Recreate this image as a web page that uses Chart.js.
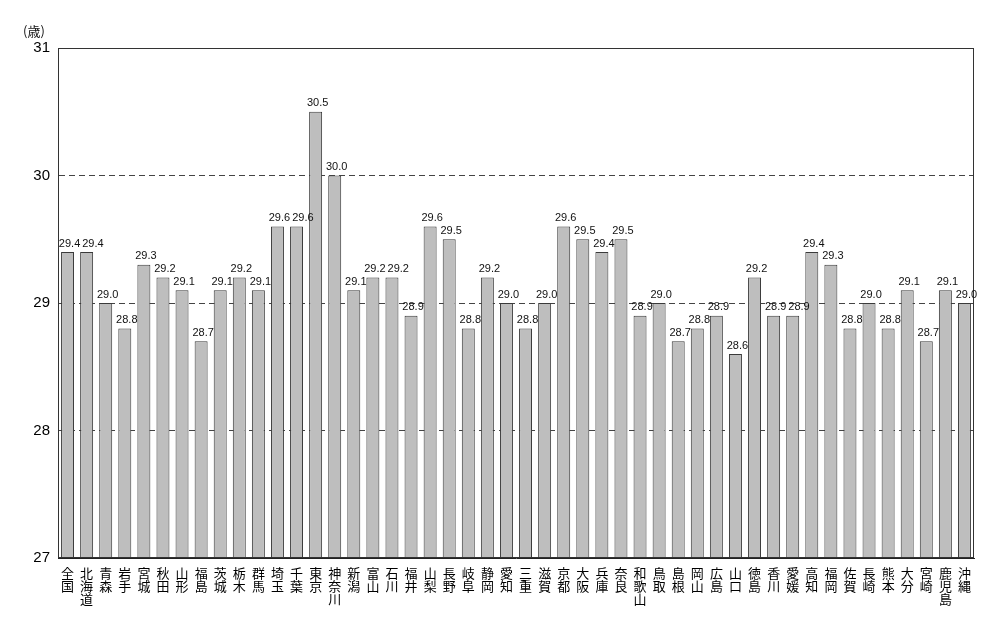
<!DOCTYPE html>
<html>
<head>
<meta charset="utf-8">
<script src="https://cdn.jsdelivr.net/npm/chart.js@4/dist/chart.umd.min.js"></script>
<style>
  html, body { margin: 0; padding: 0; background: #fff; }
  #wrap { width: 1000px; height: 630px; }
</style>
</head>
<body>
<div id="wrap"><canvas id="ageChart" width="1000" height="630"></canvas></div>
<script>
// 都道府県
const prefectures = ['全国', '北海道', '青森', '岩手', '宮城', '秋田', '山形', '福島', '茨城', '栃木',
    '群馬', '埼玉', '千葉', '東京', '神奈川', '新潟', '富山', '石川', '福井', '山梨',
    '長野', '岐阜', '静岡', '愛知', '三重', '滋賀', '京都', '大阪', '兵庫', '奈良',
    '和歌山', '鳥取', '島根', '岡山', '広島', '山口', '徳島', '香川', '愛媛', '高知',
    '福岡', '佐賀', '長崎', '熊本', '大分', '宮崎', '鹿児島', '沖縄'];
// 年齢 (歳)
const ages = [29.4, 29.4, 29.0, 28.8, 29.3, 29.2, 29.1, 28.7, 29.1, 29.2,
    29.1, 29.6, 29.6, 30.5, 30.0, 29.1, 29.2, 29.2, 28.9, 29.6,
    29.5, 28.8, 29.2, 29.0, 28.8, 29.0, 29.6, 29.5, 29.4, 29.5,
    28.9, 29.0, 28.7, 28.8, 28.9, 28.6, 29.2, 28.9, 28.9, 29.4,
    29.3, 28.8, 29.0, 28.8, 29.1, 28.7, 29.1, 29.0];
const yTicks = [27, 28, 29, 30, 31];
const unitLabel = '(歳)';

// vertical labels: one character per line
const verticalLabels = prefectures.map(p => p.split(''));

const frameAndLabels = {
    id: 'frameAndLabels',
    afterDatasetsDraw(chart) {
        const ctx = chart.ctx;
        const area = chart.chartArea;
        ctx.save();
        // frame
        ctx.strokeStyle = '#333';
        ctx.lineWidth = 1;
        ctx.strokeRect(area.left + 0.5, area.top + 0.5, area.right - area.left - 1, area.bottom - area.top - 1);
        // value labels, nudged right when they would collide with the previous one
        ctx.fillStyle = '#111';
        ctx.font = '11px "Liberation Sans", Arial, sans-serif';
        ctx.textAlign = 'left';
        ctx.textBaseline = 'bottom';
        let prev = null;
        chart.getDatasetMeta(0).data.forEach((bar, i) => {
            const txt = ages[i].toFixed(1);
            const w = ctx.measureText(txt).width;
            let x = bar.x + 2 - w / 2;
            const y = bar.y - 3;
            if (prev && Math.abs(prev.y - y) < 12 && x < prev.right + 2) {
                x = prev.right + 2;
            }
            ctx.fillText(txt, x, y);
            prev = { right: x + w, y: y };
        });
        // unit
        ctx.font = '13px "Noto Sans CJK JP", sans-serif';
        ctx.textBaseline = 'middle';
        ctx.fillText(unitLabel, 23, 31);
        ctx.restore();
    }
};

const ctx = document.getElementById('ageChart').getContext('2d');
const ageChart = new Chart(ctx, {
    type: 'bar',
    data: {
        labels: verticalLabels,
        datasets: [{
            data: ages,
            backgroundColor: '#bebebe',
            borderColor: '#3a3a3a',
            borderWidth: 1,
            borderSkipped: 'bottom',
            barPercentage: 0.68,
            categoryPercentage: 1.0
        }]
    },
    options: {
        responsive: false,
        animation: false,
        layout: { padding: { top: 48, right: 26, left: 0, bottom: 0 } },
        plugins: {
            legend: { display: false },
            tooltip: { enabled: false }
        },
        scales: {
            x: {
                grid: { display: false },
                border: { display: true, color: '#222', width: 1 },
                ticks: {
                    autoSkip: false,
                    maxRotation: 0,
                    minRotation: 0,
                    padding: 1,
                    color: '#000',
                    font: { family: '"Noto Sans CJK JP", sans-serif', size: 13, lineHeight: 1.0 }
                },
                afterFit(scale) { scale.height = 72; }
            },
            y: {
                min: 27,
                max: 31,
                afterBuildTicks(scale) { scale.ticks = yTicks.map(v => ({ value: v })); },
                grid: {
                    drawTicks: false,
                    color: c => (c.tick && (c.tick.value === 27 || c.tick.value === 31)) ? 'rgba(0,0,0,0)' : '#444',
                    lineWidth: 1
                },
                border: { display: true, color: '#222', width: 1, dash: [6, 4] },
                ticks: {
                    padding: 8,
                    color: '#000',
                    font: { family: '"Liberation Sans", Arial, sans-serif', size: 15 }
                },
                afterFit(scale) { scale.width = 58; }
            }
        }
    },
    plugins: [frameAndLabels]
});
</script>
</body>
</html>
